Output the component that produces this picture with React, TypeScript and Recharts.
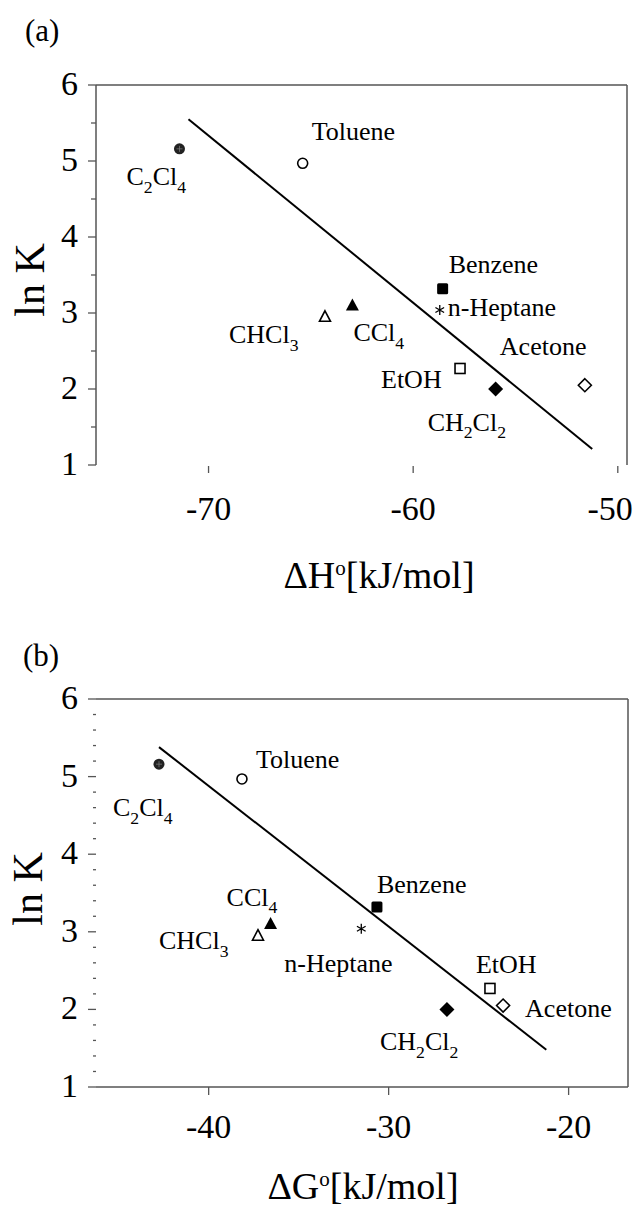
import React from 'react';
import { ScatterChart, Scatter, XAxis, YAxis, ReferenceLine, Label } from 'recharts';

// ---------- data ----------
const solvents = ['C2Cl4', 'Toluene', 'Benzene', 'n-Heptane', 'CCl4', 'CHCl3', 'EtOH', 'CH2Cl2', 'Acetone'];
const lnK = [5.16, 4.97, 3.32, 3.04, 3.10, 2.95, 2.27, 2.0, 2.05];
const dH = [-71.42, -65.4, -58.56, -58.7, -62.97, -64.31, -57.71, -55.97, -51.61];
const dG = [-42.76, -38.15, -30.65, -31.52, -36.56, -37.26, -24.37, -26.76, -23.64];

const fitAx = [-70.98, -51.25];
const fitAy = [5.55, 1.21];
const fitBx = [-42.76, -21.24];
const fitBy = [5.38, 1.48];

const xTicksA = [-70, -60, -50];
const xTicksB = [-40, -30, -20];
const yTicksA = [1, 1.5, 2, 2.5, 3, 3.5, 4, 4.5, 5, 5.5, 6];
const yTicksB = [1, 1.2, 1.4, 1.6, 1.8, 2, 2.2, 2.4, 2.6, 2.8, 3, 3.2, 3.4, 3.6, 3.8, 4, 4.2, 4.4, 4.6, 4.8, 5, 5.2, 5.4, 5.6, 5.8, 6];

// ---------- styles ----------
const FONT = '"Liberation Serif", "Times New Roman", "DejaVu Serif", serif';
const AXIS = '#555';
const markerKind: Record<string, string> = {
  C2Cl4: 'dot', Toluene: 'openCircle', Benzene: 'square', 'n-Heptane': 'asterisk',
  CCl4: 'triangle', CHCl3: 'openTriangle', EtOH: 'openSquare', CH2Cl2: 'diamond', Acetone: 'openDiamond',
};
// label offsets (px) relative to the marker: [dx (text start), dy (text centre)]
const offsetsA: Record<string, number[]> = {
  C2Cl4: [-53, 28], Toluene: [9, -32], Benzene: [6, -24], 'n-Heptane': [8, -3], CCl4: [1, 27],
  CHCl3: [-96, 18], EtOH: [-79, 11], CH2Cl2: [-68, 33], Acetone: [-85, -39],
};
const offsetsB: Record<string, number[]> = {
  C2Cl4: [-46, 43], Toluene: [14, -20], Benzene: [0, -23], 'n-Heptane': [-77, 35], CCl4: [-44, -27],
  CHCl3: [-99, 5], EtOH: [-14, -24], CH2Cl2: [-67, 32], Acetone: [22, 3],
};

const LABEL_SIZE = 26;
const TICK_SIZE = 34;
const txt = { fontFamily: FONT };

function ChemText({ x, y, text, size }: { x: number; y: number; text: string; size: number }) {
  const parts = text.match(/(\d+|\D+)/g) || [];
  const shift = size * 0.3;
  let sub = false;
  return (
    <text x={x} y={y} fontSize={size} style={txt} fill="#000">
      {parts.map((p, i) => {
        const isSub = /^\d+$/.test(p);
        let dy = 0;
        if (isSub && !sub) dy = shift;
        if (!isSub && sub) dy = -shift;
        sub = isSub;
        return (
          <tspan key={i} dy={dy} fontSize={isSub ? size * 0.68 : size}>
            {p}
          </tspan>
        );
      })}
    </text>
  );
}

function Marker({ kind, cx, cy }: { kind: string; cx: number; cy: number }) {
  const sw = 1.6;
  switch (kind) {
    case 'dot':
      return (
        <g>
          <circle cx={cx} cy={cy} r={5.5} fill="#222" />
          <path d={`M${cx - 3} ${cy} H${cx + 3} M${cx} ${cy - 3} V${cy + 3}`} stroke="#777" strokeWidth={0.8} />
        </g>
      );
    case 'openCircle':
      return <circle cx={cx} cy={cy} r={5} fill="#fff" stroke="#000" strokeWidth={sw} />;
    case 'square':
      return <rect x={cx - 5.5} y={cy - 5.5} width={11} height={11} rx={1.5} fill="#000" />;
    case 'openSquare':
      return <rect x={cx - 5} y={cy - 5} width={10} height={10} fill="#fff" stroke="#000" strokeWidth={sw} />;
    case 'triangle':
      return <path d={`M${cx} ${cy - 7} L${cx + 6.5} ${cy + 5} L${cx - 6.5} ${cy + 5} Z`} fill="#000" />;
    case 'openTriangle':
      return <path d={`M${cx} ${cy - 6} L${cx + 5.5} ${cy + 4.5} L${cx - 5.5} ${cy + 4.5} Z`} fill="#fff" stroke="#000" strokeWidth={sw} />;
    case 'diamond':
      return <path d={`M${cx} ${cy - 7.5} L${cx + 7.5} ${cy} L${cx} ${cy + 7.5} L${cx - 7.5} ${cy} Z`} fill="#000" />;
    case 'openDiamond':
      return <path d={`M${cx} ${cy - 6.5} L${cx + 6.5} ${cy} L${cx} ${cy + 6.5} L${cx - 6.5} ${cy} Z`} fill="#fff" stroke="#000" strokeWidth={sw} />;
    case 'asterisk': {
      const r = 5;
      const d = r * 0.87;
      return (
        <path
          d={`M${cx} ${cy - r} V${cy + r} M${cx - d} ${cy - r / 2} L${cx + d} ${cy + r / 2} M${cx - d} ${cy + r / 2} L${cx + d} ${cy - r / 2}`}
          stroke="#000"
          strokeWidth={1.3}
        />
      );
    }
    default:
      return null;
  }
}

type PanelProps = {
  height: number;
  plotTop: number;
  plotBottom: number;
  rightW: number;
  xVals: number[];
  xDomain: [number, number];
  xTicks: number[];
  yTicks: number[];
  fitX: number[];
  fitY: number[];
  offsets: Record<string, number[]>;
  letter: string;
  letterPos: [number, number];
  sym: string;
  titleX: number;
  titleY: number;
  lnKPos: [number, number];
  leftLine: boolean;
  bottomLine: boolean;
  topOut: boolean;
  minorLen: number;
  xLabelDy: number;
};

function Panel(p: PanelProps) {
  const W = 638;
  const isMajor = (v: number) => Math.abs(v - Math.round(v)) < 1e-6;

  const leftTick = (props: any) => {
    const { x, y, payload } = props;
    const major = isMajor(payload.value);
    return (
      <g>
        <line x1={x - (major ? 8 : p.minorLen)} x2={x} y1={y} y2={y} stroke={AXIS} strokeWidth={1.3} />
        {major && (
          <text x={x - 18} y={y + 10} textAnchor="end" fontSize={TICK_SIZE} style={txt} fill="#000">
            {payload.value}
          </text>
        )}
      </g>
    );
  };
  const rightTick = (props: any) => {
    const { x, y, payload } = props;
    const major = isMajor(payload.value);
    return <line x1={x - (major ? 9 : 4)} x2={x} y1={y} y2={y} stroke={AXIS} strokeWidth={1.3} />;
  };
  const topTick = (props: any) => {
    const { x, y } = props;
    return <line x1={x} x2={x} y1={y} y2={p.topOut ? y - 7 : y + 8} stroke={AXIS} strokeWidth={1.3} />;
  };
  const bottomTick = (props: any) => {
    const { x, y, payload } = props;
    const tx = Math.min(x, W - 4 - TICK_SIZE * 0.7);
    return (
      <g>
        <line x1={x} x2={x} y1={y + (p.bottomLine ? 0 : 1)} y2={y + 8} stroke={AXIS} strokeWidth={1.3} />
        <text x={tx} y={y + p.xLabelDy} textAnchor="middle" fontSize={TICK_SIZE} style={txt} fill="#000">
          {payload.value}
        </text>
      </g>
    );
  };

  const titleContent = () => (
    <text x={p.titleX} y={p.titleY} textAnchor="middle" fontSize={38} style={txt} fill="#000">
      <tspan>{'\u0394' + p.sym}</tspan>
      <tspan dy={-13} fontSize={21}>o</tspan>
      <tspan dy={13}>[kJ/mol]</tspan>
    </text>
  );
  const lnKContent = () => (
    <text
      x={p.lnKPos[0]}
      y={p.lnKPos[1]}
      textAnchor="middle"
      dominantBaseline="central"
      fontSize={42}
      style={txt}
      fill="#000"
      transform={`rotate(-90 ${p.lnKPos[0]} ${p.lnKPos[1]})`}
    >
      ln K
    </text>
  );
  const letterContent = () => (
    <text x={p.letterPos[0]} y={p.letterPos[1]} fontSize={31} style={txt} fill="#000">
      {p.letter}
    </text>
  );

  return (
    <ScatterChart width={W} height={p.height} margin={{ top: 0, right: 0, bottom: 0, left: 0 }}>
      <XAxis
        xAxisId="b"
        type="number"
        dataKey="x"
        orientation="bottom"
        domain={p.xDomain}
        ticks={p.xTicks}
        interval={0}
        height={p.height - p.plotBottom}
        axisLine={p.bottomLine ? { stroke: AXIS, strokeWidth: 1.5 } : false}
        tickLine={false}
        tickSize={0}
        tickMargin={0}
        tick={bottomTick}
      >
        <Label content={titleContent} />
      </XAxis>
      <XAxis
        xAxisId="t"
        type="number"
        dataKey="x"
        orientation="top"
        domain={p.xDomain}
        ticks={p.xTicks}
        interval={0}
        height={p.plotTop}
        axisLine={{ stroke: AXIS, strokeWidth: 1.5 }}
        tickLine={false}
        tickSize={0}
        tickMargin={0}
        tick={topTick}
      >
        <Label content={letterContent} />
      </XAxis>
      <YAxis
        yAxisId="l"
        type="number"
        dataKey="y"
        orientation="left"
        domain={[1, 6]}
        ticks={p.yTicks}
        interval={0}
        width={96}
        axisLine={p.leftLine ? { stroke: AXIS, strokeWidth: 1.5 } : false}
        tickLine={false}
        tickSize={0}
        tickMargin={0}
        tick={leftTick}
      >
        <Label content={lnKContent} />
      </YAxis>
      <YAxis
        yAxisId="r"
        type="number"
        dataKey="y"
        orientation="right"
        domain={[1, 6]}
        ticks={p.yTicks}
        interval={0}
        width={p.rightW}
        axisLine={{ stroke: AXIS, strokeWidth: 1.5 }}
        tickLine={false}
        tickSize={0}
        tickMargin={0}
        tick={rightTick}
      />
      <ReferenceLine
        xAxisId="b"
        yAxisId="l"
        segment={[
          { x: p.fitX[0], y: p.fitY[0] },
          { x: p.fitX[1], y: p.fitY[1] },
        ]}
        stroke="#000"
        strokeWidth={2}
        ifOverflow="visible"
      />
      {solvents.map((name, i) => (
        <Scatter
          key={name}
          xAxisId="b"
          yAxisId="l"
          data={[{ x: p.xVals[i], y: lnK[i] }]}
          isAnimationActive={false}
          shape={(sp: any) => {
            const [dx, dy] = p.offsets[name];
            return (
              <g>
                <Marker kind={markerKind[name]} cx={sp.cx} cy={sp.cy} />
                <ChemText x={sp.cx + dx} y={sp.cy + dy + LABEL_SIZE * 0.33} text={name} size={LABEL_SIZE} />
              </g>
            );
          }}
        />
      ))}
    </ScatterChart>
  );
}

export default function App() {
  return (
    <div style={{ position: 'absolute', left: 0, top: 0, width: 638, height: 1209, background: '#fff' }}>
      <div style={{ position: 'absolute', left: 0, top: 0 }}>
        <Panel
          height={600}
          plotTop={85}
          plotBottom={465}
          rightW={11}
          xVals={dH}
          xDomain={[-75.5, -49.55]}
          xTicks={xTicksA}
          yTicks={yTicksA}
          fitX={fitAx}
          fitY={fitAy}
          offsets={offsetsA}
          letter="(a)"
          letterPos={[25, 41]}
          sym="H"
          titleX={379}
          titleY={588}
          lnKPos={[30, 280]}
          leftLine={true}
          bottomLine={false}
          topOut={true}
          minorLen={5}
          xLabelDy={55}
        />
      </div>
      <div style={{ position: 'absolute', left: 0, top: 600 }}>
        <Panel
          height={609}
          plotTop={99}
          plotBottom={487}
          rightW={10}
          xVals={dG}
          xDomain={[-46.26, -16.7]}
          xTicks={xTicksB}
          yTicks={yTicksB}
          fitX={fitBx}
          fitY={fitBy}
          offsets={offsetsB}
          letter="(b)"
          letterPos={[23, 66]}
          sym="G"
          titleX={363}
          titleY={599}
          lnKPos={[28, 289]}
          leftLine={false}
          bottomLine={true}
          topOut={false}
          minorLen={3}
          xLabelDy={51}
        />
      </div>
    </div>
  );
}
